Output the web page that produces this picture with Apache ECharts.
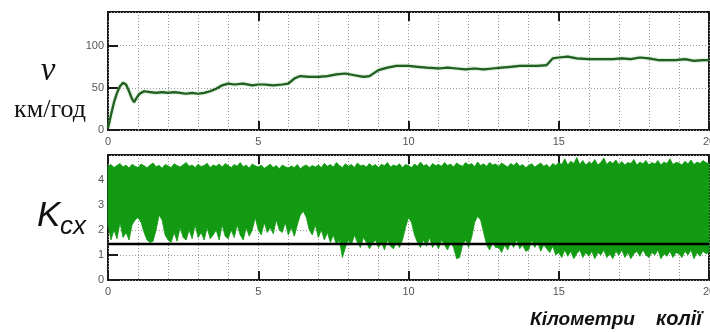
<!DOCTYPE html>
<html>
<head>
<meta charset="utf-8">
<script src="https://cdn.jsdelivr.net/npm/echarts@6/dist/echarts.min.js"></script>
<style>
  html, body { margin: 0; padding: 0; background: #fff; }
  #chart { width: 710px; height: 332px; }
</style>
</head>
<body>
<div id="chart"></div>
<script>
// speed along the track, km / km/h
const speedKm = [0, 0.1, 0.2, 0.3, 0.4, 0.5, 0.6, 0.7, 0.8, 0.87, 0.95, 1.05, 1.2, 1.4, 1.6, 1.8, 2.0, 2.2, 2.4, 2.6, 2.8, 3.0, 3.2, 3.4, 3.6, 3.8, 4.0, 4.2, 4.5, 4.8, 5.0, 5.2, 5.5, 5.8, 6.0, 6.2, 6.4, 6.7, 7.0, 7.3, 7.6, 7.9, 8.2, 8.5, 8.7, 9.0, 9.3, 9.6, 10.0, 10.3, 10.6, 11.0, 11.3, 11.6, 11.9, 12.2, 12.5, 12.8, 13.1, 13.4, 13.7, 14.0, 14.3, 14.6, 14.8, 15.0, 15.3, 15.6, 16.0, 16.4, 16.8, 17.1, 17.4, 17.7, 18.0, 18.3, 18.6, 18.9, 19.2, 19.5, 19.8, 20];
const speedV = [2, 18, 33, 44, 52, 56, 54, 46, 37, 33, 38, 43, 46, 45, 44, 45, 44, 45, 44, 43, 44, 43, 44, 46, 49, 53, 55, 54, 55, 53, 54, 54, 53, 54, 55, 61, 64, 63, 63, 64, 66, 67, 65, 63, 64, 71, 74, 76, 76, 75, 74, 73, 74, 73, 72, 73, 72, 73, 74, 75, 76, 76, 76, 77, 85, 86, 87, 85, 84, 84, 84, 85, 84, 86, 85, 83, 83, 83, 84, 82, 83, 83];

// K_cx envelope, sampled every 0.1 km
const kmFine = Array.from({ length: 201 }, (_, i) => +(i * 0.1).toFixed(1));
const kHigh = [
  4.55,4.62,4.5,4.58,4.66,4.52,4.6,4.48,4.63,4.55,
  4.5,4.64,4.57,4.49,4.6,4.68,4.53,4.59,4.47,4.62,
  4.56,4.5,4.65,4.58,4.52,4.61,4.7,4.55,4.6,4.5,
  4.63,4.54,4.58,4.67,4.5,4.6,4.55,4.64,4.52,4.66,
  4.58,4.5,4.62,4.55,4.7,4.53,4.6,4.48,4.64,4.57,
  4.52,4.6,4.47,4.55,4.63,4.5,4.58,4.45,4.6,4.53,
  4.48,4.56,4.5,4.62,4.45,4.55,4.6,4.5,4.58,4.52,
  4.6,4.5,4.66,4.55,4.62,4.52,4.7,4.58,4.5,4.65,
  4.55,4.62,4.5,4.68,4.57,4.6,4.52,4.66,4.55,4.62,
  4.5,4.63,4.57,4.7,4.52,4.6,4.55,4.65,4.5,4.62,
  4.58,4.5,4.64,4.55,4.72,4.57,4.62,4.5,4.66,4.58,
  4.62,4.55,4.7,4.58,4.64,4.52,4.68,4.6,4.55,4.7,
  4.6,4.66,4.54,4.72,4.58,4.65,4.55,4.7,4.6,4.64,
  4.55,4.68,4.6,4.52,4.66,4.58,4.7,4.55,4.62,4.5,
  4.58,4.65,4.52,4.6,4.68,4.55,4.62,4.5,4.66,4.58,
  4.7,4.62,4.85,4.6,4.75,4.66,4.9,4.62,4.78,4.6,
  4.72,4.65,4.82,4.6,4.7,4.88,4.62,4.75,4.66,4.8,
  4.62,4.74,4.6,4.7,4.66,4.82,4.6,4.72,4.65,4.78,
  4.6,4.7,4.64,4.78,4.6,4.72,4.66,4.85,4.62,4.7,
  4.68,4.6,4.75,4.64,4.8,4.62,4.72,4.66,4.78,4.7,
  4.65
];
const kLow = [
  2.2,1.6,2.0,1.65,2.3,1.7,1.9,1.6,2.2,2.4,
  2.5,2.3,1.9,1.6,1.5,1.55,2.0,2.6,2.4,1.8,
  1.6,1.5,1.9,1.55,2.1,1.7,1.6,2.0,1.65,2.2,
  1.7,1.9,1.6,2.1,1.65,1.8,2.0,1.6,2.2,1.75,
  1.65,2.0,1.7,2.2,1.8,1.6,2.1,1.75,2.0,2.5,
  2.0,1.8,2.3,1.9,2.1,1.85,2.4,2.0,1.9,2.3,
  1.8,2.1,1.75,2.2,2.6,2.75,2.5,2.0,1.8,2.2,
  1.7,2.0,1.6,1.9,1.5,1.8,1.4,1.6,0.9,1.3,
  1.6,1.4,1.8,1.5,1.3,1.7,1.5,1.25,1.45,1.6,
  1.3,1.5,1.2,1.6,1.35,1.25,1.5,1.3,1.6,2.1,
  2.5,2.3,1.8,1.5,1.3,1.6,1.35,1.7,1.3,1.5,
  1.25,1.6,1.4,1.2,1.5,1.3,0.85,0.9,1.4,1.6,
  1.3,1.7,2.3,2.55,2.4,1.9,1.4,1.2,1.5,1.3,
  1.3,1.1,1.4,1.2,1.5,1.3,1.6,1.25,1.4,1.15,
  1.2,1.6,1.3,1.5,1.15,1.4,1.25,1.1,1.35,1.0,
  1.1,0.9,1.2,0.95,1.15,0.85,1.05,1.2,0.9,1.1,
  0.95,1.15,0.85,1.1,1.0,1.2,0.9,1.05,0.85,1.15,
  1.0,1.2,0.9,1.1,0.85,1.05,1.15,0.95,1.2,1.0,
  0.9,1.1,1.0,1.2,0.85,1.05,0.95,1.15,0.9,1.1,
  1.05,0.9,1.15,1.0,1.2,0.85,1.1,0.95,1.15,1.05,
  1.1
];
const kLimit = 1.44;

const GREEN = '#129a12';
const dotted = { color: '#9a9a9a', width: 1, type: [1, 2] };
const labelStyle = { color: '#555', fontSize: 11, fontFamily: 'Liberation Sans' };

function xAxes(gridIndex) {
  const base = { type: 'value', gridIndex, min: 0, max: 20, interval: 5 };
  return [
    {
      ...base,
      axisLine: { show: false },
      axisTick: { inside: true, length: 9, lineStyle: { color: '#1a1a1a', width: 2 } },
      axisLabel: { ...labelStyle, margin: 6 },
      splitLine: { show: true, lineStyle: dotted },
      minorTick: { show: false, splitNumber: 5 },
      minorSplitLine: { show: true, lineStyle: dotted }
    },
    {
      ...base, position: 'top',
      axisLine: { show: false },
      axisTick: { inside: true, length: 9, lineStyle: { color: '#1a1a1a', width: 2 } },
      axisLabel: { show: false },
      splitLine: { show: false }
    }
  ];
}

function yAxis(gridIndex, max, interval) {
  return {
    type: 'value', gridIndex, min: 0, max, interval,
    axisLine: { show: false },
    axisTick: { inside: true, length: 10, lineStyle: { color: '#1a1a1a', width: 2 } },
    axisLabel: { ...labelStyle, margin: 4, showMaxLabel: false },
    splitLine: { show: true, lineStyle: dotted }
  };
}

// whole band between lower and upper envelope as one polygon
function renderBand(params, api) {
  if (params.dataIndex !== 0) return null;
  const top = kmFine.map((k, i) => api.coord([k, kHigh[i]]));
  const bottom = kmFine.map((k, i) => api.coord([k, kLow[i]])).reverse();
  return {
    type: 'polygon',
    shape: { points: top.concat(bottom) },
    style: { fill: GREEN, stroke: GREEN, lineWidth: 0.8 }
  };
}

const gridBase = { show: true, borderColor: '#1a1a1a', borderWidth: 2, backgroundColor: 'transparent', outerBoundsMode: 'none' };

const chart = echarts.init(document.getElementById('chart'));
chart.setOption({
  animation: false,
  backgroundColor: '#fff',
  grid: [
    { ...gridBase, left: 108, top: 12, width: 601, height: 118 },
    { ...gridBase, left: 108, top: 155, width: 601, height: 125 }
  ],
  xAxis: [...xAxes(0), ...xAxes(1)],
  yAxis: [yAxis(0, 140, 50), yAxis(1, 5, 1)],
  series: [
    {
      type: 'line', xAxisIndex: 0, yAxisIndex: 0,
      data: speedKm.map((k, i) => [k, speedV[i]]),
      showSymbol: false,
      lineStyle: { color: '#225e22', width: 2.2, shadowColor: 'rgba(70,170,70,0.7)', shadowBlur: 2 },
      z: 3
    },
    {
      type: 'custom', xAxisIndex: 2, yAxisIndex: 1,
      data: kmFine.map((k, i) => [k, kLow[i], kHigh[i]]),
      encode: { x: 0, y: [1, 2] },
      renderItem: renderBand,
      z: 2
    },
    {
      type: 'line', xAxisIndex: 2, yAxisIndex: 1,
      data: [[0, kLimit], [20, kLimit]],
      showSymbol: false,
      lineStyle: { color: '#000', width: 2.5 },
      z: 4
    }
  ],
  graphic: [
    { type: 'text', x: 48, y: 71, style: { text: 'v', font: 'italic 33px "Liberation Serif"', fill: '#111', align: 'center', verticalAlign: 'middle' } },
    { type: 'text', x: 50, y: 110, style: { text: 'км/год', font: '26px "Liberation Serif"', fill: '#111', align: 'center', verticalAlign: 'middle' } },
    { type: 'text', x: 37, y: 216, style: { text: 'K', font: 'italic 35px "Liberation Sans"', fill: '#111', verticalAlign: 'middle' } },
    { type: 'text', x: 60, y: 227, style: { text: 'cx', font: 'italic 26px "Liberation Sans"', fill: '#111', verticalAlign: 'middle' } },
    { type: 'text', x: 530, y: 329, style: { text: 'Кілометри', font: 'italic bold 19px "Liberation Sans"', fill: '#111', verticalAlign: 'bottom' } },
    { type: 'text', x: 656, y: 329, style: { text: 'колії', font: 'italic bold 20px "Liberation Sans"', fill: '#111', verticalAlign: 'bottom' } }
  ]
});
</script>
</body>
</html>
